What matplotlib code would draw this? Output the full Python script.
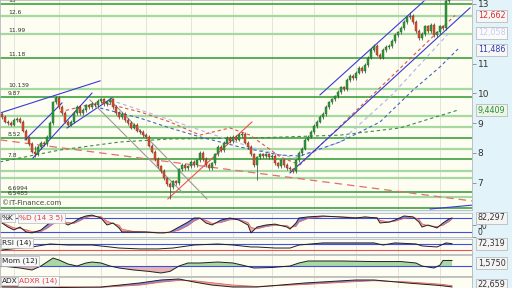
import matplotlib
matplotlib.use('Agg')
import matplotlib.pyplot as plt
import numpy as np

matplotlib.rcParams['font.family'] = 'DejaVu Sans'

W, H = 512, 288

# ---- daily closes, oldest -> newest ----
closes = [9.20, 9.05, 9.00, 8.95, 9.10, 9.15, 9.05, 8.75, 8.50, 8.30,
          8.05, 7.95, 8.20, 8.35, 8.30, 8.55, 9.00, 9.70, 9.85, 9.55,
          9.35, 9.05, 8.95, 9.05, 9.35, 9.55, 9.35, 9.45, 9.60, 9.55,
          9.65, 9.60, 9.75, 9.80, 9.65, 9.70, 9.80, 9.55, 9.35, 9.20,
          9.30, 9.10, 9.00, 8.85, 8.95, 8.75, 8.70, 8.60, 8.55, 8.25,
          8.05, 7.80, 7.55, 7.40, 7.15, 6.95, 6.85, 7.05, 7.00, 7.45,
          7.60, 7.50, 7.55, 7.70, 7.60, 7.75, 8.00, 7.80, 7.60, 7.50,
          7.65, 7.95, 8.20, 8.10, 8.35, 8.50, 8.40, 8.55, 8.45, 8.60,
          8.65, 8.35, 8.20, 7.95, 7.60, 7.85, 7.95, 7.90, 7.95, 7.85,
          7.90, 7.65, 7.55, 7.75, 7.60, 7.50, 7.45, 7.40, 7.75, 8.00,
          8.15, 8.45, 8.55, 8.70, 8.90, 9.05, 9.20, 9.30, 9.55, 9.70,
          9.80, 9.90, 10.05, 10.20, 10.15, 10.45, 10.60, 10.50, 10.70, 10.85,
          10.75, 10.95, 11.20, 11.45, 11.60, 11.30, 11.20, 11.45, 11.55, 11.60,
          11.75, 11.95, 12.05, 12.20, 12.40, 12.55, 12.60, 12.40, 12.10, 11.85,
          12.00, 12.25, 12.10, 12.30, 11.95, 12.05, 12.25, 12.20, 13.10, 13.12]
first_open = 9.30
# candles with long shadows: index -> (high, low)
long_shadows = {11: (8.25, 7.85), 56: (6.98, 6.45), 85: (7.90, 7.10),
                97: (7.50, 7.33), 136: (12.72, 12.50), 149: (13.20, 13.08)}

# ---- horizontal support / resistance ----
levels_strong = [13.0, 11.18, 9.87, 8.50, 7.80, 6.69, 6.15]
levels_weak = [12.6, 11.99, 10.139, 9.24, 8.87, 8.13, 7.40, 7.16, 6.52]
level_names = ['13', '12.6', '11.99', '11.18', '10.139', '9.87', '8.52', '7.8', '6.6994', '6.5485']
level_at = [13.0, 12.6, 11.99, 11.18, 10.139, 9.87, 8.50, 7.80, 6.69, 6.52]

# ---- drawn trend lines: (day0, price0, day1, price1) ----
blue_lines = [(-0.7, 9.34, 32.7, 10.42), (7.7, 8.44, 20.0, 9.68), (10.3, 7.83, 30.0, 10.01),
              (21.7, 8.84, 36.7, 9.85), (96.0, 7.33, 156.0, 12.87), (106.0, 9.95, 141.0, 13.13),
              (142.7, 6.12, 156.7, 6.25)]
gray_lines = [(29.3, 9.78, 60.3, 6.66), (36.0, 9.78, 68.3, 6.46)]
red_lines = [(55.3, 6.46, 83.3, 9.04)]
red_long_dash = (-0.7, 8.44, 156.7, 6.39)

# ---- moving averages (sampled) ----
ma_red_d = [19.3, 32.7, 46, 56, 66, 76, 82.7, 92.7, 99.3, 151]
ma_red_v = [9.38, 9.71, 9.38, 9.04, 8.60, 8.84, 8.60, 7.87, 7.60, 12.62]
ma_blue_d = [32.7, 46, 56, 66, 79.3, 92.7, 99.3, 112.7, 126, 137, 146, 152]
ma_blue_v = [9.51, 9.17, 8.84, 8.54, 8.20, 7.93, 7.90, 8.37, 9.04, 10.11, 10.89, 11.49]
ma_lav_d = [36, 56, 71, 86, 97.7, 112.7, 130, 149.3]
ma_lav_v = [9.78, 9.11, 8.60, 8.10, 7.83, 8.37, 9.95, 12.06]
ma_green_d = [-0.7, 19.3, 39.3, 56, 82.7, 112.7, 132.7, 152]
ma_green_v = [7.70, 8.10, 8.37, 8.47, 8.50, 8.60, 8.84, 9.44]

# ---- indicators ----
stoch_d = [0, 2, 4, 6, 8, 10, 13, 15, 17, 19, 22, 24, 26, 28, 30, 33, 35, 37, 39, 40,
           44, 48, 52, 54, 56, 59, 62, 64, 66, 68, 70, 73, 76, 79, 82, 83, 85, 88, 91, 95,
           96, 98, 99, 102, 107, 112, 118, 121, 125, 126, 129, 131, 134, 137, 139, 140, 142, 145, 147, 149, 150]
stoch_k = [60, 42, 29, 42, 20, 16, 29, 51, 73, 73, 51, 64, 82, 91, 95, 82, 51, 60, 38, 20,
           20, 20, 16, 16, 20, 42, 64, 82, 82, 60, 51, 73, 82, 73, 51, 16, 42, 51, 55, 42,
           33, 60, 82, 87, 91, 87, 82, 87, 82, 60, 64, 73, 91, 87, 64, 42, 51, 38, 60, 78, 82]
stoch_sig = [62, 50, 38, 36, 30, 22, 22, 36, 55, 68, 62, 58, 70, 84, 90, 88, 68, 58, 50, 32,
             22, 20, 18, 17, 18, 28, 48, 68, 80, 72, 58, 62, 74, 76, 62, 40, 34, 44, 50, 48,
             40, 45, 64, 80, 88, 88, 84, 85, 84, 72, 64, 68, 80, 86, 76, 56, 48, 44, 50, 66, 78]
rsi_d = [0, 6, 10, 16, 22, 30, 36, 39, 46, 52, 57, 64, 72, 77, 83, 85, 91, 96, 99, 107,
         124, 127, 131, 138, 140, 145, 148, 150]
rsi_v = [30, 43, 50, 70, 63, 63, 50, 43, 37, 37, 43, 63, 70, 63, 50, 50, 43, 43, 63, 77,
         77, 63, 77, 70, 57, 50, 77, 72]
mom_d = [0, 6, 10, 13, 15, 17, 19, 22, 25, 28, 30, 33, 36, 39, 44, 49, 53, 56, 59, 62,
         66, 72, 77, 80, 84, 90, 96, 99, 102, 113, 124, 133, 138, 140, 144, 146, 147, 150]
mom_v = [0, -0.63, -1.26, 0, 1.26, 2.5, 1.9, 0.63, 0, 0.95, 1.26, 0.95, 0, -0.63, -1.26, -1.7,
         -2.2, -1.7, 0, 0.95, 0.95, 1.26, 0.95, 0.3, -0.63, -0.47, 0, 0.95, 1.58, 1.58,
         1.4, 1.4, 0.95, 0, -0.63, 0.3, 1.75, 1.75]
adx_d = [0, 20, 33, 46, 53, 59, 64, 70, 77, 85, 101, 118, 124, 135, 146, 150]
adx_v = [22.6, 21.7, 22.6, 29.6, 34.8, 36.5, 31.3, 26, 22.6, 22.6, 29.6, 34.8, 34.8, 29.6, 25.2, 22.7]
adxr_v = [24, 23, 22, 26, 31, 34, 33.5, 30, 26, 23.5, 27, 32, 33.5, 31.5, 27.5, 25]

month_starts = [4, 19, 33, 48, 63, 77, 90, 104, 118, 132, 146]

C_GREEN_D = '#2C9A2C'
C_GREEN_L = '#A6D9A0'
BG = '#FDFDF1'

fig = plt.figure(figsize=(W / 100, H / 100), dpi=100)
fig.patch.set_facecolor('#E2F4F9')


def panel(top, bottom):
    a = fig.add_axes([0, 1 - bottom / H, 472 / W, (bottom - top) / H])
    a.set_facecolor(BG)
    a.set_xlim(-2 / 3, 470 / 3)
    a.set_xticks(month_starts)
    a.grid(axis='x', color='#E4E4DA', lw=0.7)
    a.tick_params(axis='x', length=0, labelbottom=False)
    a.yaxis.tick_right()
    a.tick_params(axis='y', length=3, width=0.6, color='#888888', labelsize=6.5,
                  labelcolor='#333333', pad=1)
    for s in a.spines.values():
        s.set_color('#B8B8B8')
        s.set_linewidth(0.6)
    a.set_axisbelow(True)
    return a


ax = panel(0, 210)
ax.set_ylim(6.087, 13.134)
ax.set_yticks([7, 8, 9, 10, 11, 13])
ax.set_yticklabels(['7', '8', '9', '10', '11', '13'])

for lv in levels_weak:
    ax.axhline(lv, color=C_GREEN_L, lw=1.6, zorder=1)
for lv in levels_strong:
    ax.axhline(lv, color=C_GREEN_D, lw=1.1, zorder=1)
for name, lv in zip(level_names, level_at):
    ax.text(2, lv + 0.04, name, fontsize=4.3, color='#333333', ha='left', va='bottom', zorder=6)

# moving averages
ax.plot(ma_green_d, ma_green_v, color='#3C8C50', lw=0.8, ls=(0, (3, 2.5)), zorder=2)
ax.plot(ma_lav_d, ma_lav_v, color='#B4BCEA', lw=0.9, ls=(0, (3, 2.5)), zorder=2)
ax.plot(ma_blue_d, ma_blue_v, color='#4A62C4', lw=0.8, ls=(0, (3, 2.5)), zorder=2)
ax.plot(ma_red_d, ma_red_v, color='#E05050', lw=0.8, ls=(0, (3, 2.5)), zorder=2)
ax.plot(red_long_dash[::2], red_long_dash[1::2], color='#E07070', lw=0.9, ls=(0, (6, 4)), zorder=2)

for d0, p0, d1, p1 in blue_lines:
    ax.plot([d0, d1], [p0, p1], color='#3A3AD8', lw=0.8, zorder=2)
for d0, p0, d1, p1 in gray_lines:
    ax.plot([d0, d1], [p0, p1], color='#9A9A9A', lw=0.8, zorder=2)
for d0, p0, d1, p1 in red_lines:
    ax.plot([d0, d1], [p0, p1], color='#F05050', lw=0.8, zorder=2)

# candles
c = np.array(closes)
o = np.array([first_open] + closes[:-1])
hi = np.maximum(o, c) + 0.06
lo = np.minimum(o, c) - 0.06
for k, (h_, l_) in long_shadows.items():
    hi[k], lo[k] = max(hi[k], h_), min(lo[k], l_)
days = np.arange(len(c))
up = c >= o
ax.vlines(days, lo, hi, color='#3A3A3A', lw=0.5, zorder=3)
body = np.maximum(np.abs(c - o), 0.03)
ax.bar(days[up], body[up], bottom=o[up], width=0.7, color='#2E9E3A',
       edgecolor='#1C5C22', lw=0.3, zorder=4)
ax.bar(days[~up], body[~up], bottom=c[~up], width=0.7, color='#E0502E',
       edgecolor='#7A2A1A', lw=0.3, zorder=4)

ax.text(0.004, 0.035, '\u00a9IT-Finance.com', transform=ax.transAxes, fontsize=5,
        color='#444444', va='center', ha='left', zorder=6)

# value boxes on the right of the price panel
ytr = ax.get_yaxis_transform()
for txt, val, col, fc in [('12,662', 12.60, '#E03030', '#F6F6F6'),
                          ('12,058', 12.03, '#C8CCEE', '#FAFAFA'),
                          ('11,486', 11.46, '#3040B0', '#F6F6F6'),
                          ('9,4409', 9.44, '#2E8B3E', '#EAF6E6')]:
    ax.text(1.012, val, txt, transform=ytr, fontsize=5.8, color=col, va='center', ha='left',
            clip_on=False, zorder=7,
            bbox=dict(boxstyle='square,pad=0.2', fc=fc, ec='#B0B0B0', lw=0.5))

# ---- stochastic ----
ax_st = panel(213, 237)
ax_st.set_ylim(-2.2, 104.3)
ax_st.set_yticks([0, 50])
ax_st.set_yticklabels(['0', '50'], fontsize=5.5)
ax_st.get_yticklabels()[0].set_va('bottom')
ax_st.axhline(80, color='#4050E0', lw=0.8)
ax_st.axhline(20, color='#4050E0', lw=0.8)
ks, ds = np.array(stoch_k), np.array(stoch_sig)
ax_st.fill_between(stoch_d, ks, ds, where=ks >= ds, interpolate=True, color='#8C8CE6', lw=0)
ax_st.fill_between(stoch_d, ks, ds, where=ks < ds, interpolate=True, color='#F2A8A8', lw=0)
ax_st.plot(stoch_d, ds, color='#E06060', lw=0.6)
ax_st.plot(stoch_d, ks, color='#202020', lw=0.7)
ax_st.text(1.012, 82.3, '82,297', transform=ax_st.get_yaxis_transform(), fontsize=5.8,
           color='#333333', va='center', clip_on=False, zorder=7,
           bbox=dict(boxstyle='square,pad=0.2', fc='#F4F4F4', ec='#B0B0B0', lw=0.5))

# ---- RSI ----
ax_rsi = panel(239, 254)
ax_rsi.set_ylim(3.3, 103)
ax_rsi.set_yticks([])
ax_rsi.axhline(70, color='#4050E0', lw=0.8)
ax_rsi.axhline(30, color='#F05050', lw=0.8)
rv = np.array(rsi_v)
ax_rsi.fill_between(rsi_d, rv, 70, where=rv >= 70, interpolate=True, color='#8C8CE6', lw=0)
ax_rsi.fill_between(rsi_d, rv, 30, where=rv <= 30, interpolate=True, color='#F2A8A8', lw=0)
ax_rsi.plot(rsi_d, rv, color='#202020', lw=0.7)
ax_rsi.text(1.012, 70, '72,319', transform=ax_rsi.get_yaxis_transform(), fontsize=5.8,
            color='#333333', va='center', clip_on=False, zorder=7,
            bbox=dict(boxstyle='square,pad=0.2', fc='#F4F4F4', ec='#B0B0B0', lw=0.5))

# ---- Momentum ----
ax_mom = panel(255, 276)
ax_mom.set_ylim(-3.15, 3.47)
ax_mom.set_yticks([])
mv = np.array(mom_v)
ax_mom.fill_between(mom_d, mv, 0, where=mv >= 0, interpolate=True, color='#A9D8A2', lw=0)
ax_mom.fill_between(mom_d, mv, 0, where=mv < 0, interpolate=True, color='#E6B4B4', lw=0)
ax_mom.axhline(0, color='#4050E0', lw=0.8)
ax_mom.plot(mom_d, mv, color='#202020', lw=0.7)
ax_mom.text(1.012, 0.9, '1,5750', transform=ax_mom.get_yaxis_transform(), fontsize=5.8,
            color='#333333', va='center', clip_on=False, zorder=7,
            bbox=dict(boxstyle='square,pad=0.2', fc='#F4F4F4', ec='#B0B0B0', lw=0.5))

# ---- ADX ----
ax_adx = panel(277, 300)
ax_adx.set_ylim(0, 40)
ax_adx.set_yticks([])
av, arv = np.array(adx_v), np.array(adxr_v)
ax_adx.fill_between(adx_d, av, arv, where=av >= arv, interpolate=True, color='#8C8CE6', lw=0)
ax_adx.fill_between(adx_d, av, arv, where=av < arv, interpolate=True, color='#F2A8A8', lw=0)
ax_adx.plot(adx_d, arv, color='#E06060', lw=0.6)
ax_adx.plot(adx_d, av, color='#202020', lw=0.7)
ax_adx.text(1.012, 26.5, '22,659', transform=ax_adx.get_yaxis_transform(), fontsize=5.8,
            color='#333333', va='center', clip_on=False, zorder=7,
            bbox=dict(boxstyle='square,pad=0.2', fc='#F4F4F4', ec='#B0B0B0', lw=0.5))

# panel captions
box = dict(boxstyle='square,pad=0.2', fc='#F8F8F8', ec='#B8B8B8', lw=0.5)


def cap(x, y, s, col='#222222'):
    fig.text(x / W, 1 - y / H, s, fontsize=5.3, color=col, va='center', ha='left', bbox=box)


cap(2, 218, '%K')
cap(19, 218, '%D (14 3 5)', '#E04040')
cap(2, 243, 'RSI (14)')
cap(2, 261, 'Mom (12)')
cap(2, 281, 'ADX')
cap(19, 281, 'ADXR (14)', '#E04040')

fig.savefig('out.png', dpi=100, facecolor=fig.get_facecolor())
